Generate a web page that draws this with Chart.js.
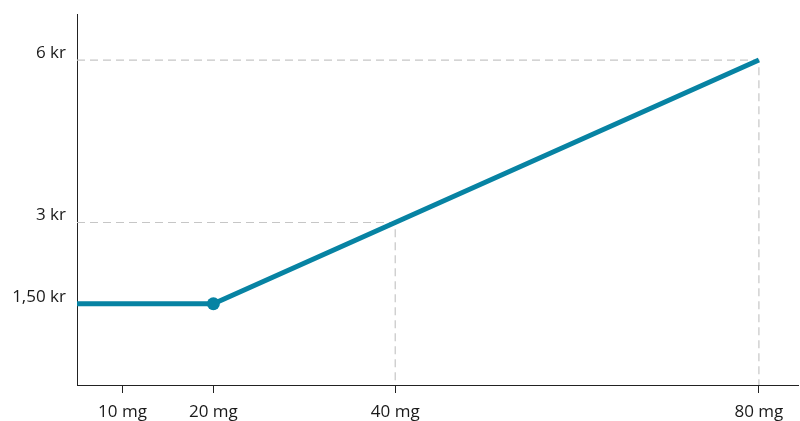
<!DOCTYPE html>
<html>
<head>
<meta charset="utf-8">
<script src="https://cdn.jsdelivr.net/npm/chart.js@4"></script>
<style>
  html, body { margin: 0; padding: 0; background: #fff; }
  #wrap { width: 800px; height: 421px; }
</style>
</head>
<body>
<div id="wrap"><canvas id="priceChart"></canvas></div>
<script>
// dose in mg vs price in kr
const doses = [5, 20, 40, 80];
const prices = [1.5, 1.5, 3, 6];
const dotRadius = [0, 6.5, 0, 0];

const xTicks = [10, 20, 40, 80];
const xLabels = ['10 mg', '20 mg', '40 mg', '80 mg'];
const yTicks = [1.5, 3, 6];
const yLabels = ['1,50 kr', '3 kr', '6 kr'];

// points that get dashed drop lines to both axes
const guideDoses = [40, 80];
const guidePrices = [3, 6];

const xMin = 5, xMax = 84.3, yMin = 0, yMax = 6.85;

const lineColor = '#0783a3';

const guideSets = guideDoses.map(function(d, i) {
    return {
        data: [{x: xMin, y: guidePrices[i]}, {x: d, y: guidePrices[i]}, {x: d, y: yMin}],
        borderColor: '#c6c6c6',
        borderWidth: 1.2,
        borderDash: [8, 5],
        pointRadius: 0,
        fill: false,
        order: 2
    };
});

const ctx = document.getElementById('priceChart').getContext('2d');
new Chart(ctx, {
    type: 'line',
    data: {
        datasets: [{
            data: doses.map(function(d, i) { return {x: d, y: prices[i]}; }),
            borderColor: lineColor,
            backgroundColor: lineColor,
            borderWidth: 5,
            pointRadius: dotRadius,
            pointHoverRadius: dotRadius,
            pointBorderWidth: 0,
            fill: false,
            clip: false,
            order: 1
        }].concat(guideSets)
    },
    options: {
        responsive: true,
        maintainAspectRatio: false,
        animation: false,
        layout: { padding: { top: 14, right: 2, left: 0, bottom: 0 } },
        plugins: { legend: { display: false }, tooltip: { enabled: false } },
        scales: {
            x: {
                type: 'linear',
                min: xMin,
                max: xMax,
                afterBuildTicks: function(axis) {
                    axis.ticks = xTicks.map(function(v) { return {value: v}; });
                },
                afterFit: function(axis) {
                    axis.height = 36;
                    axis.paddingLeft = 0;
                    axis.paddingRight = 0;
                },
                ticks: {
                    autoSkip: false,
                    maxRotation: 0,
                    padding: 9,
                    color: '#1a1a1a',
                    font: { family: 'Open Sans', size: 17 },
                    callback: function(v) {
                        const i = xTicks.indexOf(v);
                        return i >= 0 ? xLabels[i] : '';
                    }
                },
                grid: { drawOnChartArea: false, drawTicks: true, tickLength: 8, color: '#222', lineWidth: 1 },
                border: { display: true, color: '#222', width: 1 }
            },
            y: {
                type: 'linear',
                min: yMin,
                max: yMax,
                afterBuildTicks: function(axis) {
                    axis.ticks = yTicks.map(function(v) { return {value: v}; });
                },
                afterFit: function(axis) {
                    axis.width = 77;
                    axis.paddingTop = 0;
                    axis.paddingBottom = 0;
                },
                ticks: {
                    padding: 11,
                    labelOffset: -7,
                    color: '#1a1a1a',
                    font: { family: 'Open Sans', size: 17 },
                    callback: function(v) {
                        const i = yTicks.indexOf(v);
                        return i >= 0 ? yLabels[i] : '';
                    }
                },
                grid: { drawOnChartArea: false, drawTicks: false },
                border: { display: true, color: '#222', width: 1 }
            }
        }
    }
});
</script>
</body>
</html>
